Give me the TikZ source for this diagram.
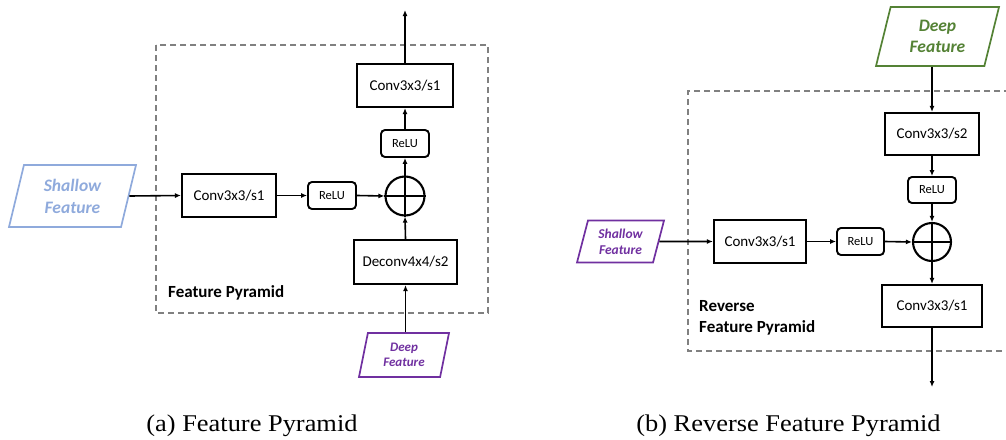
\documentclass[tikz,border=0pt]{standalone}
\usepackage{fontspec}
\setmainfont{Carlito}
\newfontfamily\capfont[FakeStretch=1.1]{Liberation Serif}
\usetikzlibrary{shapes.geometric,arrows.meta}

\definecolor{lightblue}{RGB}{143,170,220}
\definecolor{fpurple}{RGB}{112,48,160}
\definecolor{fgreen}{RGB}{84,130,53}
\definecolor{dashgray}{RGB}{128,128,128}

\tikzset{
  block/.style={draw, line width=2.1pt, inner sep=0pt, font=\fontsize{15}{18}\selectfont},
  act/.style={draw, line width=1.9pt, rounded corners=4pt, inner sep=0pt,
              minimum width=48pt, minimum height=27pt, font=\fontsize{12.5}{15}\selectfont},
  feat/.style={trapezium, trapezium stretches body, draw, line width=1.7pt, inner sep=0pt,
               align=center, font=\bfseries\itshape},
  sumnode/.style={circle, draw, line width=2.1pt, inner sep=0pt, minimum size=39pt},
  conn/.style={line width=1.6pt, -{Latex[length=6pt,width=5pt]}},
  frame/.style={draw=dashgray, line width=1.3pt, dash pattern=on 6pt off 4pt},
  grouplabel/.style={font=\bfseries\fontsize{17}{21}\selectfont, align=left, inner sep=0pt},
  caption/.style={font=\capfont\fontsize{24}{28}\selectfont, inner sep=0pt, anchor=base}
}

\begin{document}
\begin{tikzpicture}[x=1pt, y=-1pt]
\useasboundingbox (0,0) rectangle (1006,439);

% ---------------- (a) Feature Pyramid ----------------
\draw[frame] (156,45) rectangle (488,313);

\node[feat, draw=lightblue, text=lightblue, minimum width=127pt, minimum height=62pt,
      trapezium left angle=66.5, trapezium right angle=113.5,
      font=\bfseries\itshape\fontsize{17.5}{22}\selectfont]
      (shallowA) at (72.5,196) {Shallow\\Feature};
\node[block, minimum width=94pt, minimum height=43pt] (convA) at (229,195.5) {Conv3x3/s1};
\node[act] (reluA1) at (332,195.5) {ReLU};
\node[sumnode] (sumA) at (405,196) {};
\draw[line width=2.1pt] (sumA.west) -- (sumA.east) (sumA.north) -- (sumA.south);
\node[act] (reluA2) at (405,143.5) {ReLU};
\node[block, minimum width=96pt, minimum height=43pt] (convTopA) at (405,85.5) {Conv3x3/s1};
\node[block, minimum width=103pt, minimum height=44pt] (deconvA) at (405.5,262) {Deconv4x4/s2};
\node[feat, draw=fpurple, text=fpurple, minimum width=90pt, minimum height=44pt,
      trapezium left angle=68.9, trapezium right angle=111.1,
      font=\bfseries\itshape\fontsize{13}{14.5}\selectfont]
      (deepA) at (404,355) {Deep\\Feature};
\coordinate (outA) at (405,10);
\node[grouplabel, anchor=west] (lblA) at (168,293) {Feature Pyramid};

\draw[conn] (shallowA.east) -- (convA.west);
\draw[conn] (convA.east) -- (reluA1.west);
\draw[conn] (reluA1.east) -- (sumA.west);
\draw[conn] (deepA.north -| deconvA) -- (deconvA.south);
\draw[conn] (deconvA.north) -- (sumA.south);
\draw[conn] (sumA.north) -- (reluA2.south);
\draw[conn] (reluA2.north) -- (convTopA.south);
\draw[conn] (convTopA.north) -- (outA);

% ---------------- (b) Reverse Feature Pyramid ----------------
\draw[frame] (1010,91) -- (688,91) -- (688,351) -- (1010,351);

\node[feat, draw=fgreen, text=fgreen, minimum width=123pt, minimum height=59pt,
      trapezium left angle=65.4, trapezium right angle=114.6,
      font=\bfseries\itshape\fontsize{17.5}{20.5}\selectfont]
      (deepB) at (937.5,36.5) {Deep\\Feature};
\node[block, minimum width=94pt, minimum height=42pt] (convS2B) at (932,134) {Conv3x3/s2};
\node[act, minimum height=26pt] (reluB1) at (932,190) {ReLU};
\node[sumnode, minimum size=38pt] (sumB) at (932,242) {};
\draw[line width=2.1pt] (sumB.west) -- (sumB.east) (sumB.north) -- (sumB.south);
\node[feat, draw=fpurple, text=fpurple, minimum width=87pt, minimum height=42pt,
      trapezium left angle=66.8, trapezium right angle=113.2,
      font=\bfseries\itshape\fontsize{13.5}{16}\selectfont]
      (shallowB) at (620.5,241.5) {Shallow\\Feature};
\node[block, minimum width=92pt, minimum height=43pt] (convB) at (760,241.5) {Conv3x3/s1};
\node[act, minimum width=47pt] (reluB2) at (860.5,241.5) {ReLU};
\node[block, minimum width=100pt, minimum height=42pt] (convOutB) at (932,306) {Conv3x3/s1};
\coordinate (outB) at (932,387);
\node[grouplabel, anchor=west] (lblB) at (699,317.5) {Reverse\\Feature Pyramid};

\draw[conn] (deepB.south -| convS2B) -- (convS2B.north);
\draw[conn] (convS2B.south) -- (reluB1.north);
\draw[conn] (reluB1.south) -- (sumB.north);
\draw[conn] (shallowB.east) -- (convB.west);
\draw[conn] (convB.east) -- (reluB2.west);
\draw[conn] (reluB2.east) -- (sumB.west);
\draw[conn] (sumB.south) -- (convOutB.north);
\draw[conn] (convOutB.south) -- (outB);

% ---------------- captions ----------------
\node[caption] (capA) at (252,431) {(a) Feature Pyramid};
\node[caption] (capB) at (788.5,431) {(b) Reverse Feature Pyramid};
\end{tikzpicture}
\end{document}
